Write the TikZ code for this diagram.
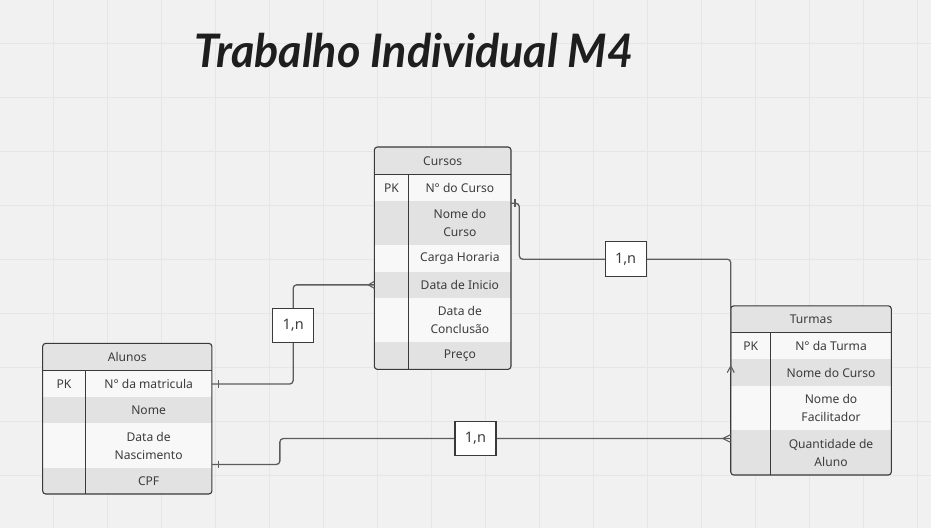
\documentclass[tikz,border=0pt]{standalone}
\usepackage{fontspec}
\setmainfont{Noto Sans}
\newfontfamily\titlefont{Lato}
\definecolor{bgc}{HTML}{F1F1F1}
\definecolor{gridc}{HTML}{E6E6E6}
\definecolor{bdc}{HTML}{3A3A3A}
\definecolor{lnc}{HTML}{5C5C5C}
\definecolor{txtc}{HTML}{3C3C3C}
\definecolor{hdrc}{HTML}{E3E3E3}
\definecolor{greyc}{HTML}{E2E2E2}
\definecolor{lightc}{HTML}{F8F8F8}
\definecolor{titlec}{HTML}{1E1E1E}
\newcommand\errow[9]{%
  \node[rowbox, fill=#6, minimum width={(#4-#2)*1pt}, minimum height={(#5-#3)*1pt}] (#1) at (#2,#3) {};
  \node[celltext] (#1k) at ({(#2+#7)/2},{(#3+#5)/2}) {#8};
  \node[celltext] (#1v) at ({(#7+#4)/2},{(#3+#5)/2}) {#9};}
\newcommand\erhead[6]{%
  \node[rowbox, fill=hdrc, minimum width={(#4-#2)*1pt}, minimum height={(#5-#3)*1pt}] (#1) at (#2,#3) {};
  \node[celltext] (#1t) at ({(#2+#4)/2},{(#3+#5)/2}) {#6};}
\begin{document}
\begin{tikzpicture}[x=1pt,y=-1pt,
  rowbox/.style={draw=none, inner sep=0pt, outer sep=0pt, anchor=north west},
  celltext/.style={inner sep=0pt, align=center, text=txtc, font=\fontsize{12.1}{18}\selectfont},
  tblbox/.style={draw=bdc, line width=1.1pt, rounded corners=3pt, inner sep=0pt, outer sep=0pt, anchor=north west},
  inner/.style={draw=bdc, line width=1pt},
  conn/.style={draw=lnc, line width=1.3pt, rounded corners=3.5pt},
  endmark/.style={draw=lnc, line width=1.1pt},
  lab/.style={draw=bdc, fill=white, line width=1.1pt, minimum width=41pt, minimum height=34.5pt, inner sep=0pt, text=txtc, font=\fontsize{14.5}{16}\selectfont}]
\fill[bgc] (0,0) rectangle (931,528);
\foreach \i in {0,...,16} \draw[gridc, line width=0.8pt] (53.5+54*\i,0) -- (53.5+54*\i,528);
\foreach \j in {0,...,8} \draw[gridc, line width=0.8pt] (0,43.3+54*\j) -- (931,43.3+54*\j);
\useasboundingbox (0,0) rectangle (931,528);

\node[text=titlec, inner sep=0pt] (title) at (414,50) {\scalebox{1.07}[1.1]{\titlefont\bfseries\itshape\fontsize{42}{42}\selectfont Trabalho Individual M4}};

% ---- Cursos ----
\begin{scope}
\clip[rounded corners=3pt] (374.3,146.7) rectangle (511,369.3);
\erhead{cursosH}{374.3}{146.7}{511}{174.3}{Cursos}
\errow{cursosR1}{374.3}{174.3}{511}{201}{lightc}{408.7}{PK}{N° do Curso}
\errow{cursosR2}{374.3}{201}{511}{245.3}{greyc}{408.7}{}{Nome do\\Curso}
\errow{cursosR3}{374.3}{245.3}{511}{271.7}{lightc}{408.7}{}{Carga Horaria}
\errow{cursosR4}{374.3}{271.7}{511}{297.7}{greyc}{408.7}{}{Data de Inicio}
\errow{cursosR5}{374.3}{297.7}{511}{342.3}{lightc}{408.7}{}{Data de\\Conclusão}
\errow{cursosR6}{374.3}{342.3}{511}{369.3}{greyc}{408.7}{}{Preço}
\end{scope}
\node[tblbox, minimum width=136.7pt, minimum height=222.6pt] (cursos) at (374.3,146.7) {};
\coordinate (cursosD) at (408.7,174.3);
\draw[inner] (cursosH.south west) -- (cursosH.south east);
\draw[inner] (cursosD) -- (cursosD |- cursos.south);

% ---- Alunos ----
\begin{scope}
\clip[rounded corners=3pt] (42.3,343.3) rectangle (211.7,494);
\erhead{alunosH}{42.3}{343.3}{211.7}{370.7}{Alunos}
\errow{alunosR1}{42.3}{370.7}{211.7}{397.3}{lightc}{85}{PK}{N° da matricula}
\errow{alunosR2}{42.3}{397.3}{211.7}{423.3}{greyc}{85}{}{Nome}
\errow{alunosR3}{42.3}{423.3}{211.7}{468.3}{lightc}{85}{}{Data de\\Nascimento}
\errow{alunosR4}{42.3}{468.3}{211.7}{494}{greyc}{85}{}{CPF}
\end{scope}
\node[tblbox, minimum width=169.4pt, minimum height=150.7pt] (alunos) at (42.3,343.3) {};
\coordinate (alunosD) at (85,370.7);
\draw[inner] (alunosH.south west) -- (alunosH.south east);
\draw[inner] (alunosD) -- (alunosD |- alunos.south);

% ---- Turmas ----
\begin{scope}
\clip[rounded corners=3pt] (731,305.7) rectangle (891.7,475);
\erhead{turmasH}{731}{305.7}{891.7}{332.7}{Turmas}
\errow{turmasR1}{731}{332.7}{891.7}{359.3}{lightc}{771}{PK}{N° da Turma}
\errow{turmasR2}{731}{359.3}{891.7}{385.7}{greyc}{771}{}{Nome do Curso}
\errow{turmasR3}{731}{385.7}{891.7}{430}{lightc}{771}{}{Nome do\\Facilitador}
\errow{turmasR4}{731}{430}{891.7}{475}{greyc}{771}{}{Quantidade de\\Aluno}
\end{scope}
\node[tblbox, minimum width=160.7pt, minimum height=169.3pt] (turmas) at (731,305.7) {};
\coordinate (turmasD) at (771,332.7);
\draw[inner] (turmasH.south west) -- (turmasH.south east);
\draw[inner] (turmasD) -- (turmasD |- turmas.south);

% ---- label positions ----
\coordinate (lab1pos) at (293,325.5);
\coordinate (lab2pos) at (625.7,259);
\coordinate (lab3pos) at (475.5,438.5);

% ---- connectors ----
\draw[conn] (alunosR1.east) -| (lab1pos) |- (cursosR4.west);
\draw[conn] ([yshift=-2pt]cursosR1.south east) -- ++(8.3,0) |- (lab2pos) -| (turmasR2.west);
\draw[conn] ([yshift=3.8pt]alunosR3.south east) -- ++(68,0) |- (lab3pos) -- ([yshift=-8.5pt]turmasR4.north west);

% ---- end marks ----
\draw[endmark] ([xshift=6.6pt,yshift=4pt]alunosR1.east) -- ++(0,8);
\draw[endmark] ([xshift=6.6pt,yshift=7.8pt]alunosR3.south east) -- ++(0,8);
\draw[endmark] ([xshift=4pt,yshift=2pt]cursosR1.south east) -- ++(0,8);
\draw[endmark] ([yshift=3.5pt]cursosR4.west) -- ([xshift=-6pt]cursosR4.west) -- ([yshift=-3.5pt]cursosR4.west);
\draw[endmark] ([xshift=-3.5pt]turmasR2.west) -- ([yshift=6.5pt]turmasR2.west) -- ([xshift=3.5pt]turmasR2.west);
\draw[endmark] ([yshift=-4.5pt]turmasR4.north west) -- ([xshift=-8pt,yshift=-8.5pt]turmasR4.north west) -- ([yshift=-12.5pt]turmasR4.north west);

% ---- labels ----
\node[lab] (lab1) at (lab1pos) {1,n};
\node[lab] (lab2) at (lab2pos) {1,n};
\node[lab] (lab3) at (lab3pos) {1,n};
\end{tikzpicture}
\end{document}
